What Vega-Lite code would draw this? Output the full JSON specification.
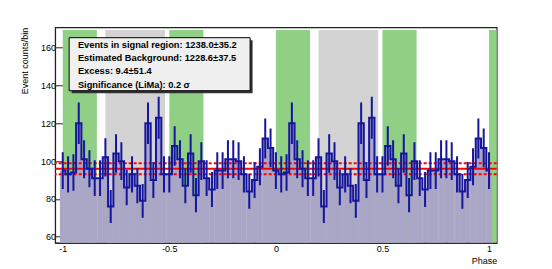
{
  "$schema": "https://vega.github.io/schema/vega-lite/v6.json",
  "width": 441.6,
  "height": 215.5,
  "autosize": {"type": "none"},
  "padding": {"left": 55.1, "top": 27.3, "right": 55, "bottom": 26},
  "background": "white",
  "config": {"view": {"stroke": "#222", "strokeWidth": 1.2}, "font": "Liberation Sans", "axis": {"labelOverlap": false, "labelFlush": false, "labelBound": false}},
  "resolve": {"axis": {"x": "independent"}},
  "datasets": {
    "hist": [
      {"phase": -1.0, "counts": 95, "err": 9.7},
      {"phase": -0.975, "counts": 93, "err": 9.6},
      {"phase": -0.95, "counts": 94, "err": 9.7},
      {"phase": -0.925, "counts": 120, "err": 11.0},
      {"phase": -0.9, "counts": 101, "err": 10.0},
      {"phase": -0.875, "counts": 96, "err": 9.8},
      {"phase": -0.85, "counts": 91, "err": 9.5},
      {"phase": -0.825, "counts": 91, "err": 9.5},
      {"phase": -0.8, "counts": 102, "err": 10.1},
      {"phase": -0.775, "counts": 76, "err": 8.7},
      {"phase": -0.75, "counts": 104, "err": 10.2},
      {"phase": -0.725, "counts": 100, "err": 10.0},
      {"phase": -0.7, "counts": 86, "err": 9.3},
      {"phase": -0.675, "counts": 93, "err": 9.6},
      {"phase": -0.65, "counts": 87, "err": 9.3},
      {"phase": -0.625, "counts": 79, "err": 8.9},
      {"phase": -0.6, "counts": 120, "err": 11.0},
      {"phase": -0.575, "counts": 90, "err": 9.5},
      {"phase": -0.55, "counts": 123, "err": 11.1},
      {"phase": -0.525, "counts": 93, "err": 9.6},
      {"phase": -0.5, "counts": 93, "err": 9.6},
      {"phase": -0.475, "counts": 108, "err": 10.4},
      {"phase": -0.45, "counts": 101, "err": 10.0},
      {"phase": -0.425, "counts": 87, "err": 9.3},
      {"phase": -0.4, "counts": 104, "err": 10.2},
      {"phase": -0.375, "counts": 82, "err": 9.1},
      {"phase": -0.35, "counts": 100, "err": 10.0},
      {"phase": -0.325, "counts": 91, "err": 9.5},
      {"phase": -0.3, "counts": 85, "err": 9.2},
      {"phase": -0.275, "counts": 95, "err": 9.7},
      {"phase": -0.25, "counts": 95, "err": 9.7},
      {"phase": -0.225, "counts": 101, "err": 10.0},
      {"phase": -0.2, "counts": 101, "err": 10.0},
      {"phase": -0.175, "counts": 100, "err": 10.0},
      {"phase": -0.15, "counts": 93, "err": 9.6},
      {"phase": -0.125, "counts": 84, "err": 9.2},
      {"phase": -0.1, "counts": 90, "err": 9.5},
      {"phase": -0.075, "counts": 97, "err": 9.8},
      {"phase": -0.05, "counts": 112, "err": 10.6},
      {"phase": -0.025, "counts": 107, "err": 10.3},
      {"phase": 0.0, "counts": 95, "err": 9.7},
      {"phase": 0.025, "counts": 93, "err": 9.6},
      {"phase": 0.05, "counts": 94, "err": 9.7},
      {"phase": 0.075, "counts": 120, "err": 11.0},
      {"phase": 0.1, "counts": 101, "err": 10.0},
      {"phase": 0.125, "counts": 96, "err": 9.8},
      {"phase": 0.15, "counts": 91, "err": 9.5},
      {"phase": 0.175, "counts": 91, "err": 9.5},
      {"phase": 0.2, "counts": 102, "err": 10.1},
      {"phase": 0.225, "counts": 76, "err": 8.7},
      {"phase": 0.25, "counts": 104, "err": 10.2},
      {"phase": 0.275, "counts": 100, "err": 10.0},
      {"phase": 0.3, "counts": 86, "err": 9.3},
      {"phase": 0.325, "counts": 93, "err": 9.6},
      {"phase": 0.35, "counts": 87, "err": 9.3},
      {"phase": 0.375, "counts": 79, "err": 8.9},
      {"phase": 0.4, "counts": 120, "err": 11.0},
      {"phase": 0.425, "counts": 90, "err": 9.5},
      {"phase": 0.45, "counts": 123, "err": 11.1},
      {"phase": 0.475, "counts": 93, "err": 9.6},
      {"phase": 0.5, "counts": 93, "err": 9.6},
      {"phase": 0.525, "counts": 108, "err": 10.4},
      {"phase": 0.55, "counts": 101, "err": 10.0},
      {"phase": 0.575, "counts": 87, "err": 9.3},
      {"phase": 0.6, "counts": 104, "err": 10.2},
      {"phase": 0.625, "counts": 82, "err": 9.1},
      {"phase": 0.65, "counts": 100, "err": 10.0},
      {"phase": 0.675, "counts": 91, "err": 9.5},
      {"phase": 0.7, "counts": 85, "err": 9.2},
      {"phase": 0.725, "counts": 95, "err": 9.7},
      {"phase": 0.75, "counts": 95, "err": 9.7},
      {"phase": 0.775, "counts": 101, "err": 10.0},
      {"phase": 0.8, "counts": 101, "err": 10.0},
      {"phase": 0.825, "counts": 100, "err": 10.0},
      {"phase": 0.85, "counts": 93, "err": 9.6},
      {"phase": 0.875, "counts": 84, "err": 9.2},
      {"phase": 0.9, "counts": 90, "err": 9.5},
      {"phase": 0.925, "counts": 97, "err": 9.8},
      {"phase": 0.95, "counts": 112, "err": 10.6},
      {"phase": 0.975, "counts": 107, "err": 10.3},
      {"phase": 1.0, "counts": 95, "err": 9.7}
    ],
    "bands": [
      {"start": -1.0, "end": -0.84, "kind": "signal"},
      {"start": -0.8, "end": -0.52, "kind": "background"},
      {"start": -0.5, "end": -0.34, "kind": "signal"},
      {"start": 0.0, "end": 0.16, "kind": "signal"},
      {"start": 0.2, "end": 0.48, "kind": "background"},
      {"start": 0.5, "end": 0.66, "kind": "signal"},
      {"start": 1.0, "end": 1.16, "kind": "signal"}
    ],
    "levels": [
      {"level": 96.0, "kind": "mean"},
      {"level": 98.9, "kind": "range"},
      {"level": 93.1, "kind": "range"}
    ]
  },
  "layer": [
    {
      "data": {"name": "bands"},
      "mark": {"type": "rect", "clip": true},
      "encoding": {
        "x": {"field": "start", "type": "quantitative", "title": "Phase", "scale": {"domain": [-1.0125, 1.0125], "nice": false, "zero": false},
          "axis": {
            "orient": "bottom",
            "values": [-1, -0.5, 0, 0.5, 1],
            "labelExpr": "'' + datum.value",
            "tickSize": -7,
            "labelPadding": 9, "labelFlush": false, "labelOverlap": false, "labelBound": false,
            "labelFont": "Liberation Sans", "labelFontSize": 9, "labelColor": "black",
            "domainColor": "#222", "tickColor": "#222", "grid": false,
            "title": "Phase", "titleAnchor": "end", "titleFont": "Liberation Sans", "titleFontSize": 9, "titleFontWeight": "normal", "titleColor": "black", "titlePadding": 3
          }
        },
        "x2": {"field": "end"},
        "y": {"datum": 56.8, "type": "quantitative", "title": "Event counts/bin", "scale": {"domain": [56.8, 170.8], "nice": false, "zero": false},
          "axis": {
            "values": [60, 65, 70, 75, 80, 85, 90, 95, 100, 105, 110, 115, 120, 125, 130, 135, 140, 145, 150, 155, 160, 165, 170],
            "labelExpr": "datum.value % 20 == 0 ? '' + datum.value : ''",
            "tickSize": {"condition": {"test": "datum.value % 20 == 0", "value": -10}, "value": -5},
            "labelPadding": 9.5, "labelOverlap": false, "labelFlush": false, "labelBound": false,
            "labelFont": "Liberation Sans", "labelFontSize": 9, "labelColor": "black",
            "domainColor": "#222", "tickColor": "#222", "grid": false,
            "titleAnchor": "end", "titleFont": "Liberation Sans", "titleFontSize": 9, "titleFontWeight": "normal", "titleColor": "black", "titlePadding": 11
          }
        },
        "y2": {"datum": 169.4},
        "color": {"field": "kind", "type": "nominal", "scale": {"domain": ["signal", "background"], "range": ["#8fd085", "#d3d3d3"]}, "legend": null}
      }
    },
    {
      "data": {"name": "hist"},
      "mark": {"type": "bar", "orient": "vertical", "size": 5.7, "color": "#a9a6c6", "clip": true},
      "encoding": {
        "x": {"field": "phase", "type": "quantitative", "scale": {"domain": [-1.0125, 1.0125], "nice": false, "zero": false},
          "axis": {
            "orient": "bottom",
            "values": [-0.9, -0.8, -0.7, -0.6, -0.4, -0.3, -0.2, -0.1, 0.1, 0.2, 0.3, 0.4, 0.6, 0.7, 0.8, 0.9],
            "tickSize": -3.5, "labels": false, "domain": false, "grid": false, "title": null, "tickColor": "#222"
          }
        },
        "y": {"field": "counts", "type": "quantitative", "title": "Event counts/bin", "scale": {"domain": [56.8, 170.8], "nice": false, "zero": false}}
      }
    },
    {
      "data": {"name": "levels"},
      "mark": {"type": "rule", "color": "#ff0000", "strokeWidth": 2},
      "encoding": {
        "y": {"field": "level", "type": "quantitative", "title": "Event counts/bin", "scale": {"domain": [56.8, 170.8], "nice": false, "zero": false}},
        "strokeDash": {"field": "kind", "type": "nominal", "scale": {"domain": ["mean", "range"], "range": [[1, 0], [3, 2]]}, "legend": null}
      }
    },
    {
      "data": {"name": "hist"},
      "mark": {"type": "line", "interpolate": "step", "color": "#16169c", "strokeWidth": 2, "clip": true},
      "encoding": {
        "x": {"field": "phase", "type": "quantitative", "axis": null, "scale": {"domain": [-1.0125, 1.0125], "nice": false, "zero": false}},
        "y": {"field": "counts", "type": "quantitative", "title": "Event counts/bin", "scale": {"domain": [56.8, 170.8], "nice": false, "zero": false}}
      }
    },
    {
      "data": {"name": "hist"},
      "mark": {"type": "errorbar", "color": "#16169c", "thickness": 2, "clip": true},
      "encoding": {
        "x": {"field": "phase", "type": "quantitative", "axis": null, "scale": {"domain": [-1.0125, 1.0125], "nice": false, "zero": false}},
        "y": {"field": "counts", "type": "quantitative", "title": "Event counts/bin", "scale": {"domain": [56.8, 170.8], "nice": false, "zero": false}},
        "yError": {"field": "err"}
      }
    },
    {
      "data": {"values": [{}]},
      "mark": {"type": "rect", "fill": "#333333", "xOffset": 2.5, "x2Offset": 2.5, "yOffset": 2.5, "y2Offset": 2.5},
      "encoding": {
        "x": {"datum": -0.970, "type": "quantitative", "axis": null, "scale": {"domain": [-1.0125, 1.0125], "nice": false, "zero": false}},
        "x2": {"datum": -0.121},
        "y": {"datum": 165.3, "type": "quantitative", "title": "Event counts/bin", "scale": {"domain": [56.8, 170.8], "nice": false, "zero": false}},
        "y2": {"datum": 137.25}
      }
    },
    {
      "data": {"values": [{}]},
      "mark": {"type": "rect", "fill": "#f0f0f0", "stroke": "#000000", "strokeWidth": 1},
      "encoding": {
        "x": {"datum": -0.970, "type": "quantitative", "axis": null, "scale": {"domain": [-1.0125, 1.0125], "nice": false, "zero": false}},
        "x2": {"datum": -0.121},
        "y": {"datum": 165.3, "type": "quantitative", "title": "Event counts/bin", "scale": {"domain": [56.8, 170.8], "nice": false, "zero": false}},
        "y2": {"datum": 137.25}
      }
    },
    {
      "data": {"values": [{}]},
      "mark": {"type": "text", "text": ["Events in signal region: 1238.0±35.2", "Estimated Background: 1228.6±37.5", "Excess: 9.4±51.4", "Significance (LiMa): 0.2 σ"], "align": "left", "baseline": "alphabetic", "lineHeight": 13.3, "font": "Liberation Sans", "fontSize": 9.3, "fontWeight": "bold", "color": "#000000"},
      "encoding": {
        "x": {"datum": -0.929, "type": "quantitative", "axis": null, "scale": {"domain": [-1.0125, 1.0125], "nice": false, "zero": false}},
        "y": {"datum": 160.0, "type": "quantitative", "title": "Event counts/bin", "scale": {"domain": [56.8, 170.8], "nice": false, "zero": false}}
      }
    }
  ]
}
